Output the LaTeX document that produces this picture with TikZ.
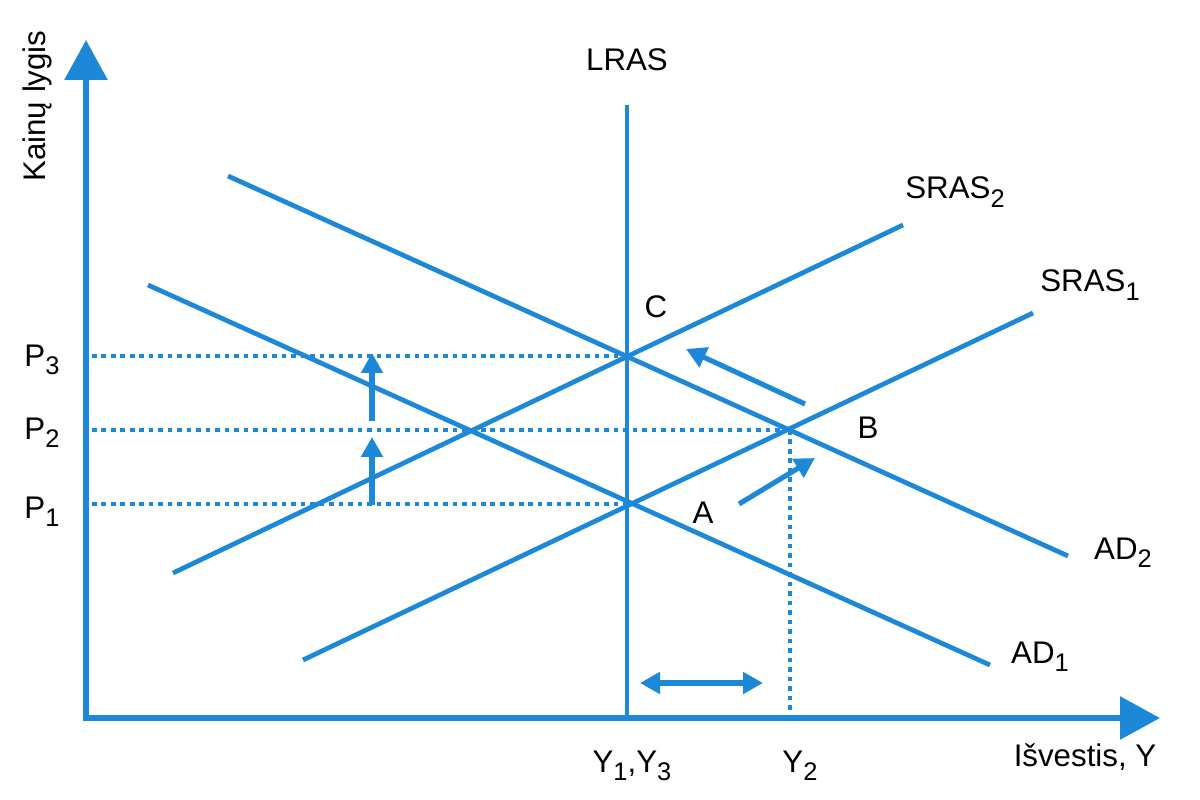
\documentclass[tikz,border=0pt]{standalone}
\usepackage{fontspec}
\setmainfont{Liberation Sans}
\usetikzlibrary{arrows.meta}
\definecolor{econblue}{RGB}{30,136,216}
\newcommand{\lo}[1]{\raisebox{-0.5ex}{\fontsize{14.5}{15}\selectfont #1}}
\begin{document}
\begin{tikzpicture}[x=0.02cm,y=-0.02cm]
    \tikzset{% This is the style settings for curves and labels
    axis/.style={draw=econblue,line width=3.5pt,-{Triangle[length=0.8cm,width=0.84cm]}},
    curve/.style={draw=econblue,line width=2.7pt},
    guide/.style={draw=econblue,line width=2.6pt,dash pattern=on 2.6pt off 2.8pt},
    move/.style={draw=econblue,line width=2.9pt,-{Triangle[length=0.4cm,width=0.42cm]}},
    lbl/.style={inner sep=0pt,font=\fontsize{17.8}{19}\selectfont},
    }
    \useasboundingbox (0,0) rectangle (1200,800);
    % Points
    \coordinate (ybot) at (86,721);
    \coordinate (ytop) at (86,40);
    \coordinate (xbeg) at (83,718);
    \coordinate (xend) at (1160,718);
    \coordinate (C) at (627,356);
    \coordinate (B) at (790,430);
    \coordinate (A) at (627,504);
    \coordinate (p3) at (92,356);
    \coordinate (p2) at (92,430);
    \coordinate (p1) at (92,504);
    \coordinate (y2) at (790,716);
    \coordinate (ltop) at (627,105);
    \coordinate (lbot) at (627,718);
    \coordinate (ad2s) at (228,176);
    \coordinate (ad2e) at (1068,556);
    \coordinate (ad1s) at (148,285);
    \coordinate (ad1e) at (990,665);
    \coordinate (sr1s) at (303,660);
    \coordinate (sr1e) at (1033,313);
    \coordinate (sr2s) at (173,573);
    \coordinate (sr2e) at (903,225);
    \coordinate (u1s) at (372,505);
    \coordinate (u1e) at (372,437);
    \coordinate (u2s) at (372,421);
    \coordinate (u2e) at (372,353);
    \coordinate (bcs) at (805,404);
    \coordinate (bce) at (686,349);
    \coordinate (abs) at (739,504);
    \coordinate (abe) at (815,458);
    \coordinate (gl) at (640,683);
    \coordinate (gr) at (763,683);

    % Guides
    \draw[guide] (p3) -- (C);
    \draw[guide] (p2) -- (B);
    \draw[guide] (p1) -- (A);
    \draw[guide] (B) -- (y2);

    % Curves
    \draw[curve] (ltop) -- (lbot);
    \draw[curve] (ad2s) -- (ad2e);
    \draw[curve] (ad1s) -- (ad1e);
    \draw[curve] (sr1s) -- (sr1e);
    \draw[curve] (sr2s) -- (sr2e);

    % Axes
    \draw[axis] (ybot) -- (ytop);
    \draw[axis] (xbeg) -- (xend);

    % Shifts
    \draw[move] (u1s) -- (u1e);
    \draw[move] (u2s) -- (u2e);
    \draw[move] (bcs) -- (bce);
    \draw[move] (abs) -- (abe);
    \draw[move,{Triangle[length=0.4cm,width=0.42cm]}-{Triangle[length=0.4cm,width=0.42cm]}] (gl) -- (gr);

    % Labels
    \node[lbl] (lras) at (627,60) {LRAS};
    \node[lbl] (lc) at (656,307) {C};
    \node[lbl] (lb) at (868,428) {B};
    \node[lbl] (la) at (703,513) {A};
    \node[lbl] (lsr2) at (955,192) {SRAS\lo{2}};
    \node[lbl] (lsr1) at (1090,285) {SRAS\lo{1}};
    \node[lbl] (lad2) at (1123,553) {AD\lo{2}};
    \node[lbl] (lad1) at (1040,657) {AD\lo{1}};
    \node[lbl] (ly13) at (632,766) {Y\lo{1},Y\lo{3}};
    \node[lbl] (ly2) at (800,766) {Y\lo{2}};
    \node[lbl] (lx) at (1085,757) {Išvestis, Y};
    \node[lbl] (lp3) at (42,360) {P\lo{3}};
    \node[lbl] (lp2) at (42,433) {P\lo{2}};
    \node[lbl] (lp1) at (42,512) {P\lo{1}};
    \node[lbl,rotate=90] (ly) at (37,106) {Kainų lygis};
\end{tikzpicture}
\end{document}
